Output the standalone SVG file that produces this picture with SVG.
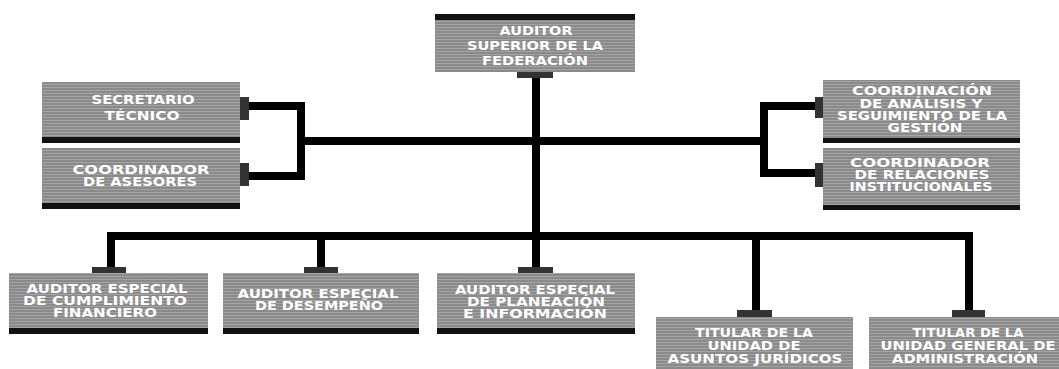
<svg xmlns="http://www.w3.org/2000/svg" width="1059" height="369" viewBox="0 0 1059 369">
<defs>
<pattern id="stripe" x="0" y="0" width="10" height="3" patternUnits="userSpaceOnUse">
<rect width="10" height="3" fill="#8a8a8a"/>
<rect width="10" height="1" fill="#a4a4a4"/>
</pattern>
</defs>
<style>
.box{fill:url(#stripe)}
.bar{fill:#111}
.tab{fill:#333}
.ln{stroke:#000;stroke-width:8;fill:none;stroke-linecap:square}
text{font-family:"DejaVu Sans","Liberation Sans",sans-serif;font-weight:bold;font-size:12px;fill:#fff;text-anchor:middle}
</style>
<rect width="1059" height="369" fill="#fff"/>
<g id="connectors">
<path class="ln" d="M536 78 V267"/>
<path class="ln" d="M301 141 H764"/>
<path class="ln" d="M250 106 H301 V176 H250"/>
<path class="ln" d="M815 106 H764 V173 H815"/>
<path class="ln" d="M111 267 V236 H969 V310"/>
<path class="ln" d="M321 236 V267"/>
<path class="ln" d="M756 236 V310"/>
</g>
<g id="auditor-superior">
<rect class="bar" x="435" y="14" width="200" height="6"/>
<rect class="box" x="435" y="20" width="200" height="52"/>
<rect class="tab" x="517" y="72" width="36" height="6"/>
<text x="536" y="35" textLength="73" lengthAdjust="spacingAndGlyphs">AUDITOR</text>
<text x="535" y="50" textLength="136" lengthAdjust="spacingAndGlyphs">SUPERIOR DE LA</text>
<text x="535" y="65" textLength="106" lengthAdjust="spacingAndGlyphs">FEDERACIÓN</text>
</g>
<g id="secretario-tecnico">
<rect class="box" x="42" y="82" width="198" height="55"/>
<rect class="bar" x="42" y="137" width="198" height="6"/>
<rect class="tab" x="240" y="97" width="9" height="23"/>
<text x="143" y="104" textLength="103" lengthAdjust="spacingAndGlyphs">SECRETARIO</text>
<text x="142" y="120" textLength="75" lengthAdjust="spacingAndGlyphs">TÉCNICO</text>
</g>
<g id="coordinador-asesores">
<rect class="box" x="42" y="148" width="198" height="55"/>
<rect class="bar" x="42" y="203" width="198" height="6"/>
<rect class="tab" x="240" y="163" width="9" height="23"/>
<text x="141" y="174" textLength="137" lengthAdjust="spacingAndGlyphs">COORDINADOR</text>
<text x="140" y="186" textLength="114" lengthAdjust="spacingAndGlyphs">DE ASESORES</text>
</g>
<g id="coordinacion-analisis">
<rect class="box" x="823" y="80" width="197" height="58"/>
<rect class="bar" x="823" y="138" width="197" height="5"/>
<rect class="tab" x="815" y="97" width="8" height="21"/>
<text x="922" y="95" textLength="140" lengthAdjust="spacingAndGlyphs">COORDINACIÓN</text>
<text x="921" y="108" textLength="123" lengthAdjust="spacingAndGlyphs">DE ANÁLISIS Y</text>
<text x="922" y="120" textLength="170" lengthAdjust="spacingAndGlyphs">SEGUIMIENTO DE LA</text>
<text x="925" y="132" textLength="75" lengthAdjust="spacingAndGlyphs">GESTIÓN</text>
</g>
<g id="coordinador-relaciones">
<rect class="box" x="823" y="148" width="197" height="57"/>
<rect class="bar" x="823" y="205" width="197" height="5"/>
<rect class="tab" x="815" y="163" width="8" height="24"/>
<text x="920" y="167" textLength="140" lengthAdjust="spacingAndGlyphs">COORDINADOR</text>
<text x="922" y="179" textLength="135" lengthAdjust="spacingAndGlyphs">DE RELACIONES</text>
<text x="921" y="191" textLength="143" lengthAdjust="spacingAndGlyphs">INSTITUCIONALES</text>
</g>
<g id="auditor-cumplimiento">
<rect class="tab" x="92" y="267" width="34" height="6"/>
<rect class="box" x="9" y="273" width="199" height="55"/>
<rect class="bar" x="9" y="328" width="199" height="6"/>
<text x="107" y="293" textLength="161" lengthAdjust="spacingAndGlyphs">AUDITOR ESPECIAL</text>
<text x="105" y="305" textLength="164" lengthAdjust="spacingAndGlyphs">DE CUMPLIMIENTO</text>
<text x="105" y="317" textLength="104" lengthAdjust="spacingAndGlyphs">FINANCIERO</text>
</g>
<g id="auditor-desempeno">
<rect class="tab" x="304" y="267" width="34" height="6"/>
<rect class="box" x="223" y="273" width="196" height="55"/>
<rect class="bar" x="223" y="328" width="196" height="6"/>
<text x="318" y="298" textLength="161" lengthAdjust="spacingAndGlyphs">AUDITOR ESPECIAL</text>
<text x="319" y="310" textLength="128" lengthAdjust="spacingAndGlyphs">DE DESEMPEÑO</text>
</g>
<g id="auditor-planeacion">
<rect class="tab" x="518" y="267" width="35" height="6"/>
<rect class="box" x="437" y="273" width="198" height="55"/>
<rect class="bar" x="437" y="328" width="198" height="6"/>
<text x="535" y="294" textLength="160" lengthAdjust="spacingAndGlyphs">AUDITOR ESPECIAL</text>
<text x="536" y="306" textLength="138" lengthAdjust="spacingAndGlyphs">DE PLANEACIÓN</text>
<text x="535" y="318" textLength="144" lengthAdjust="spacingAndGlyphs">E INFORMACIÓN</text>
</g>
<g id="titular-juridicos">
<rect class="tab" x="737" y="310" width="35" height="7"/>
<rect class="box" x="656" y="317" width="197" height="52"/>
<text x="754" y="337" textLength="118" lengthAdjust="spacingAndGlyphs">TITULAR DE LA</text>
<text x="754" y="350" textLength="93" lengthAdjust="spacingAndGlyphs">UNIDAD DE</text>
<text x="755" y="363" textLength="175" lengthAdjust="spacingAndGlyphs">ASUNTOS JURÍDICOS</text>
</g>
<g id="titular-administracion">
<rect class="tab" x="952" y="310" width="33" height="7"/>
<rect class="box" x="869" y="317" width="190" height="52"/>
<text x="968" y="337" textLength="111" lengthAdjust="spacingAndGlyphs">TITULAR DE LA</text>
<text x="968" y="350" textLength="175" lengthAdjust="spacingAndGlyphs">UNIDAD GENERAL DE</text>
<text x="965" y="363" textLength="146" lengthAdjust="spacingAndGlyphs">ADMINISTRACIÓN</text>
</g>
</svg>
